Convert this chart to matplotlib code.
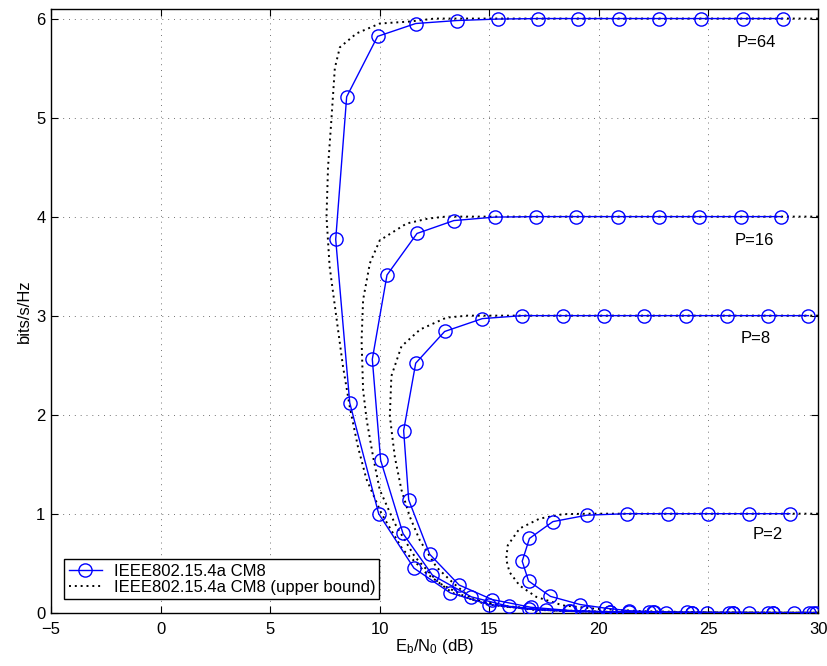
import matplotlib
matplotlib.use("Agg")
import matplotlib.pyplot as plt

plt.rcParams['font.family'] = ['Liberation Sans', 'DejaVu Sans']
plt.rcParams['mathtext.fontset'] = 'custom'
plt.rcParams['mathtext.rm'] = 'Liberation Sans'
plt.rcParams['mathtext.it'] = 'Liberation Sans'

# simulated points (Eb/N0 in dB, bits/s/Hz), one list per P
p64_x = [28.38, 26.56, 24.66, 22.76, 20.93, 19.03, 17.21, 15.39, 13.51, 11.64, 9.90, 8.49, 7.99,
         8.63, 9.95, 11.56, 13.22, 14.98, 16.83, 18.65, 20.50, 22.30, 24.25, 26.10, 27.95, 29.75]
p64_y = [6.0, 6.0, 6.0, 6.0, 6.0, 6.0, 6.0, 5.995, 5.98, 5.95, 5.82, 5.21, 3.77,
         2.12, 1.0, 0.45, 0.20, 0.083, 0.035, 0.015, 0.006, 0.0025, 0.001, 0.0004, 0.0002, 0.0001]

p16_x = [28.33, 26.48, 24.58, 22.73, 20.86, 18.96, 17.11, 15.24, 13.38, 11.70, 10.33, 9.66,
         10.04, 11.06, 12.40, 14.18, 15.88, 17.60, 19.43, 21.39, 23.08, 24.95, 26.86, 28.90]
p16_y = [4.0, 4.0, 4.0, 4.0, 4.0, 4.0, 4.0, 3.995, 3.96, 3.83, 3.41, 2.56,
         1.54, 0.80, 0.38, 0.16, 0.065, 0.027, 0.011, 0.0045, 0.002, 0.0008, 0.0003, 0.0001]

p8_x = [29.56, 27.70, 25.83, 23.97, 22.08, 20.25, 18.35, 16.50, 14.68, 12.96, 11.64, 11.09,
        11.32, 12.28, 13.62, 15.13, 16.90, 18.70, 20.50, 22.45, 24.25, 26.10, 27.95, 29.90]
p8_y = [3.0, 3.0, 3.0, 3.0, 3.0, 3.0, 3.0, 3.0, 2.97, 2.84, 2.52, 1.84,
        1.14, 0.59, 0.28, 0.133, 0.055, 0.022, 0.009, 0.0035, 0.0014, 0.0006, 0.0002, 0.0001]

p2_x = [28.71, 26.86, 24.96, 23.14, 21.27, 19.45, 17.90, 16.83, 16.50, 16.79, 17.79, 19.14,
        20.33, 21.39, 22.50, 24.00, 25.95, 27.70, 29.60]
p2_y = [1.0, 1.0, 1.0, 1.0, 1.0, 0.985, 0.92, 0.75, 0.52, 0.32, 0.165, 0.083,
        0.045, 0.02, 0.009, 0.004, 0.0015, 0.0006, 0.0002]

# upper bounds
b64_x = [30.0, 20.0, 12.5, 11.37, 10.0, 8.94, 8.18, 7.95, 7.80, 7.64, 7.57, 7.71, 8.01, 8.32,
         8.63, 9.0, 9.39, 10.08, 11.04, 12.12, 13.32, 14.86, 17.0, 20.0, 25.0, 30.0]
b64_y = [6.0, 6.0, 6.0, 5.97, 5.95, 5.85, 5.71, 5.5, 5.0, 4.5, 4.0, 3.5, 3.0, 2.49,
         2.08, 1.68, 1.35, 1.0, 0.64, 0.40, 0.20, 0.085, 0.03, 0.008, 0.001, 0.0]

b16_x = [30.0, 13.0, 12.2, 11.22, 10.0, 9.55, 9.24, 9.17, 9.24, 9.40, 9.70, 10.0, 10.69,
         11.6, 12.7, 14.0, 15.6, 17.5, 20.0, 24.0, 30.0]
b16_y = [4.0, 4.0, 3.98, 3.93, 3.76, 3.53, 3.16, 2.75, 2.25, 1.95, 1.57, 1.24, 0.90,
         0.565, 0.30, 0.15, 0.07, 0.03, 0.01, 0.002, 0.0]

b8_x = [30.0, 14.0, 13.04, 11.84, 10.99, 10.53, 10.46, 10.56, 10.69, 10.99, 11.37, 11.83,
        12.59, 13.35, 14.26, 15.8, 18.0, 21.0, 25.0, 30.0]
b8_y = [3.0, 3.0, 2.98, 2.86, 2.69, 2.39, 1.99, 1.8, 1.57, 1.24, 0.97, 0.73,
        0.46, 0.30, 0.13, 0.06, 0.02, 0.005, 0.001, 0.0]

b2_x = [30.0, 19.5, 18.35, 17.29, 16.38, 15.84, 15.77, 15.92, 16.38, 17.14, 18.35, 19.87,
        22.0, 25.0, 30.0]
b2_y = [1.0, 1.0, 0.995, 0.95, 0.85, 0.68, 0.54, 0.41, 0.275, 0.16, 0.074, 0.04,
        0.015, 0.004, 0.0]

labels = ['P=64', 'P=16', 'P=8', 'P=2']
label_x = [26.3, 26.2, 26.45, 27.0]
label_y = [5.76, 3.76, 2.77, 0.79]

FS = 12

fig = plt.figure(figsize=(8.27, 6.66), dpi=100)
ax = fig.add_axes([0.0617, 0.080, 0.9275, 0.907])

sims = [(p64_x, p64_y), (p16_x, p16_y), (p8_x, p8_y), (p2_x, p2_y)]
bounds = [(b64_x, b64_y), (b16_x, b16_y), (b8_x, b8_y), (b2_x, b2_y)]

for i, (bx, by) in enumerate(bounds):
    ax.plot(bx, by, color='black', linestyle=(0, (1, 2.0)), lw=1.4,
            label='IEEE802.15.4a CM8 (upper bound)' if i == 0 else None, zorder=2)

for i, (sx, sy) in enumerate(sims):
    ax.plot(sx, sy, color='blue', lw=1.0, marker='o', markersize=9.5, markerfacecolor='none',
            markeredgecolor='blue', markeredgewidth=1.0,
            label='IEEE802.15.4a CM8' if i == 0 else None, zorder=3)

for lab, lx, ly in zip(labels, label_x, label_y):
    ax.text(lx, ly, lab, fontsize=FS, va='center', ha='left')

ax.set_xlim(-5, 30)
ax.set_ylim(0, 6.1)
ax.set_xticks([-5, 0, 5, 10, 15, 20, 25, 30])
ax.set_xticklabels(['\u22125', '0', '5', '10', '15', '20', '25', '30'])
ax.set_yticks([0, 1, 2, 3, 4, 5, 6])
ax.tick_params(direction='in', top=True, right=True, length=5, width=0.8, labelsize=FS)
ax.tick_params(axis='x', pad=7)
ax.tick_params(axis='y', pad=4)
ax.grid(True, color='0.45', linestyle=(0, (1, 5)), lw=0.7)
for s in ax.spines.values():
    s.set_linewidth(1.0)

ax.set_xlabel('E$_\\mathrm{b}$/N$_\\mathrm{0}$ (dB)', fontsize=FS, labelpad=0)
ax.set_ylabel('bits/s/Hz', fontsize=FS, labelpad=3)

h, l = ax.get_legend_handles_labels()
leg = ax.legend(h[::-1], l[::-1], loc='lower left', fontsize=FS, fancybox=False,
                edgecolor='black', framealpha=1, handlelength=2.0, handletextpad=0.7,
                borderaxespad=0.8, borderpad=0.25, labelspacing=0.1)
leg.get_frame().set_linewidth(1.0)

fig.savefig('out.png', dpi=100)
